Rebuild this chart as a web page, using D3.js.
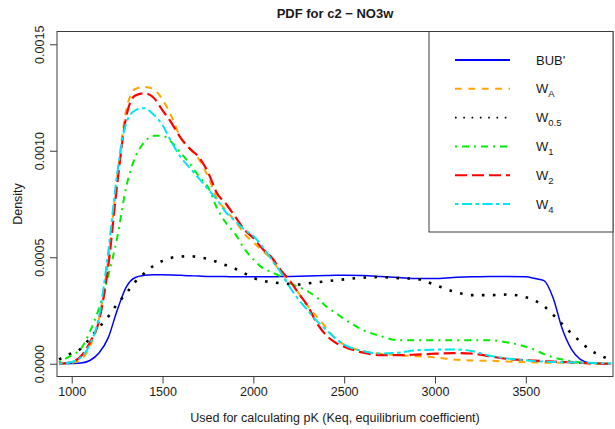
<!DOCTYPE html>
<html>
<head>
<meta charset="utf-8">
<script src="https://cdn.jsdelivr.net/npm/d3@7/dist/d3.min.js"></script>
<style>
  html, body { margin: 0; padding: 0; background: #fff; }
  svg { display: block; font-family: "Liberation Sans", Arial, Helvetica, sans-serif; }
</style>
</head>
<body>
<svg id="chart" width="615" height="429"></svg>
<script>
// Evaluation grid (pK values) shared by all density curves
const grid = [930, 1000, 1050, 1100, 1150, 1200, 1250, 1300, 1350, 1400, 1450, 1500, 1550, 1600,
  1650, 1700, 1750, 1800, 1850, 1900, 1950, 2000, 2050, 2100, 2150, 2200, 2250, 2300, 2350, 2400,
  2450, 2500, 2600, 2700, 2800, 2900, 3000, 3100, 3200, 3300, 3400, 3500, 3550, 3600, 3650, 3700,
  3750, 3800, 3850, 3900, 3970];

// Density estimates on the grid
const bub = [0, 0.000001, 0.000003, 0.000015, 0.00005, 0.00012, 0.00025, 0.00036, 0.000405, 0.000415,
  0.000418, 0.000418, 0.000417, 0.000415, 0.000413, 0.000412, 0.00041, 0.00041, 0.000409, 0.000408,
  0.000408, 0.000408, 0.000408, 0.000408, 0.000409, 0.00041, 0.000411, 0.000412, 0.000413, 0.000414,
  0.000415, 0.000415, 0.000414, 0.00041, 0.000405, 0.0004, 0.0004, 0.000405, 0.000408, 0.00041,
  0.00041, 0.000408, 0.0004, 0.00039, 0.00031, 0.000165, 0.00007, 0.00002, 0.000004, 0.000001, 0];

const wA = [0, 0.000004, 0.00002, 0.00008, 0.00021, 0.00048, 0.00087, 0.00119, 0.00129, 0.0013,
  0.00129, 0.00124, 0.00116, 0.00106, 0.00101, 0.00096, 0.00088, 0.000775, 0.00072, 0.00067,
  0.00061, 0.00057, 0.00053, 0.00049, 0.00043, 0.00039, 0.00033, 0.00027, 0.00022, 0.00017,
  0.00012, 0.00009, 0.00006, 0.000047, 0.00004, 0.000035, 0.00003, 0.00002, 0.000015, 0.000014,
  0.00001, 0.000007, 0.000006, 0.000005, 0.000005, 0.000005, 0.000004, 0.000003, 0.000002, 0.000001, 0];

const w05 = [0.00002, 0.00005, 0.00007, 0.00012, 0.00017, 0.00022, 0.00028, 0.00033, 0.000385, 0.000425,
  0.00046, 0.000483, 0.000498, 0.000503, 0.000505, 0.0005, 0.000492, 0.000478, 0.000462, 0.000446,
  0.000425, 0.000403, 0.00039, 0.000383, 0.000378, 0.000375, 0.000372, 0.000377, 0.000382, 0.000387,
  0.000392, 0.000396, 0.000404, 0.000407, 0.000402, 0.000398, 0.00037, 0.00034, 0.000322, 0.000322,
  0.000325, 0.000312, 0.000296, 0.00027, 0.00023, 0.000187, 0.000143, 0.000104, 0.000067, 0.000043, 0.000018];

const w1 = [0.000008, 0.00004, 0.00007, 0.00015, 0.00026, 0.00041, 0.00059, 0.00083, 0.00097, 0.00104,
  0.00107, 0.00107, 0.00104, 0.00099, 0.00094, 0.00088, 0.00083, 0.00073, 0.00066, 0.00061,
  0.00054, 0.00049, 0.00045, 0.00043, 0.00041, 0.00038, 0.00036, 0.00034, 0.00031, 0.00027,
  0.00024, 0.00021, 0.00016, 0.00013, 0.00011, 0.00011, 0.00011, 0.00011, 0.00011, 0.00011,
  0.0001, 0.00008, 0.000065, 0.000045, 0.00003, 0.00002, 0.000012, 0.000006, 0.000003, 0.000001, 0];

const w2 = [0, 0.000008, 0.000035, 0.0001, 0.0002, 0.00045, 0.00084, 0.00116, 0.00126, 0.00127,
  0.00125, 0.00119, 0.00113, 0.00106, 0.00101, 0.00097, 0.0009, 0.0008, 0.00075, 0.00069,
  0.00063, 0.00059, 0.00054, 0.0005, 0.00044, 0.00039, 0.00033, 0.00027, 0.00019, 0.000135,
  0.0001, 0.00008, 0.000053, 0.00004, 0.00004, 0.000043, 0.000047, 0.00005, 0.000048, 0.000035,
  0.000022, 0.000017, 0.000015, 0.000012, 0.00001, 0.000008, 0.000006, 0.000004, 0.000002, 0.000001, 0];

const w4 = [0, 0.000008, 0.00003, 0.00009, 0.00022, 0.00052, 0.00089, 0.00113, 0.00119, 0.0012,
  0.00117, 0.00112, 0.00104, 0.00097, 0.00092, 0.00087, 0.00082, 0.00077, 0.00071, 0.00067,
  0.00063, 0.0006, 0.00055, 0.00049, 0.00043, 0.00036, 0.0003, 0.00025, 0.0002, 0.00016,
  0.00012, 0.00009, 0.00006, 0.000048, 0.000052, 0.000063, 0.000066, 0.000067, 0.00006, 0.000037,
  0.000025, 0.000016, 0.000012, 0.00001, 0.000008, 0.000007, 0.000006, 0.000005, 0.000004, 0.000003, 0.000002];

const xTicks = [1000, 1500, 2000, 2500, 3000, 3500];
const yTicks = [0, 0.0005, 0.0010, 0.0015];
const yTickLabels = ["0.0000", "0.0005", "0.0010", "0.0015"];

// Series styling: colour, width, dash pattern (plot) and dash pattern (legend key)
const series = [
  { name: "BUB'", base: "BUB'", sub: "", values: bub, color: "#0000ff", width: 1.5, dash: null, keyDash: null, keyWidth: 2 },
  { name: "WA", base: "W", sub: "A", values: wA, color: "#ffa500", width: 2, dash: "7,6", keyDash: "6.7,6.7", keyWidth: 2 },
  { name: "W0.5", base: "W", sub: "0.5", values: w05, color: "#000000", width: 2.6, dash: "2.6,8.4", keyDash: "1.6,6.7", keyWidth: 1.6 },
  { name: "W1", base: "W", sub: "1", values: w1, color: "#00ee00", width: 2, dash: "2,5,7,5", keyDash: "2,5,7,5", keyWidth: 2 },
  { name: "W2", base: "W", sub: "2", values: w2, color: "#ff0000", width: 2.2, dash: "12,5", keyDash: "12,5", keyWidth: 2 },
  { name: "W4", base: "W", sub: "4", values: w4, color: "#00e5ee", width: 2, dash: "3.5,3.5,10,3.5", keyDash: "3.5,3.5,10,3.5", keyWidth: 2 }
];

const svg = d3.select("#chart");
const box = { left: 57, right: 613, top: 31.5, bottom: 376.5 };
const textColor = "#1a1a1a";
const axisColor = "#3c3c3c";

const x = d3.scaleLinear().domain([919, 3980]).range([box.left, box.right]);
const y = d3.scaleLinear().domain([-0.00006, 0.00156]).range([box.bottom, box.top]);

svg.append("defs").append("clipPath").attr("id", "plotClip")
  .append("rect")
  .attr("x", box.left).attr("y", box.top)
  .attr("width", box.right - box.left).attr("height", box.bottom - box.top);

// Density curves
const line = d3.line()
  .x((d, i) => x(grid[i]))
  .y(d => y(d))
  .curve(d3.curveMonotoneX);

const curves = svg.append("g").attr("clip-path", "url(#plotClip)");
series.forEach(s => {
  curves.append("path")
    .attr("d", line(s.values))
    .attr("fill", "none")
    .attr("stroke", s.color)
    .attr("stroke-width", s.width)
    .attr("stroke-dasharray", s.dash)
    .attr("stroke-linecap", "butt");
});

// Axes
const xAxis = svg.append("g")
  .attr("transform", `translate(0,${box.bottom})`)
  .call(d3.axisBottom(x).tickValues(xTicks).tickFormat(d3.format("d"))
    .tickSize(7).tickSizeOuter(0).tickPadding(4));
xAxis.select(".domain").remove();
xAxis.selectAll("line").attr("stroke", axisColor);
xAxis.selectAll("text").attr("font-size", 12.5).attr("fill", textColor)
  .attr("font-family", "Liberation Sans, Arial, sans-serif");

const yAxis = svg.append("g")
  .attr("transform", `translate(${box.left},0)`)
  .call(d3.axisLeft(y).tickValues(yTicks).tickSize(7).tickFormat((d, i) => yTickLabels[i]));
yAxis.select(".domain").remove();
yAxis.selectAll("line").attr("stroke", axisColor);
yAxis.selectAll("text")
  .attr("font-size", 12.5).attr("fill", textColor)
  .attr("font-family", "Liberation Sans, Arial, sans-serif")
  .attr("text-anchor", "middle")
  .attr("x", null)
  .attr("dy", "0")
  .attr("transform", "translate(-13,0) rotate(-90)");

// Plot frame
svg.append("rect")
  .attr("x", box.left).attr("y", box.top)
  .attr("width", box.right - box.left).attr("height", box.bottom - box.top)
  .attr("fill", "none").attr("stroke", axisColor).attr("stroke-width", 1);

// Title and axis labels
svg.append("text")
  .attr("x", (box.left + box.right) / 2).attr("y", 18)
  .attr("text-anchor", "middle").attr("font-size", 13).attr("font-weight", "bold").attr("fill", textColor)
  .text("PDF for c2 \u2212 NO3w");

svg.append("text")
  .attr("x", (box.left + box.right) / 2).attr("y", 422)
  .attr("text-anchor", "middle").attr("font-size", 12.5).attr("fill", textColor)
  .text("Used for calculating pK (Keq, equilibrium coefficient)");

svg.append("text")
  .attr("transform", `translate(22,${(box.top + box.bottom) / 2}) rotate(-90)`)
  .attr("text-anchor", "middle").attr("font-size", 12.5).attr("fill", textColor)
  .text("Density");

// Legend
const legend = svg.append("g");
legend.append("rect")
  .attr("x", 429).attr("y", box.top)
  .attr("width", box.right - 429).attr("height", 232 - box.top)
  .attr("fill", "#fff").attr("stroke", axisColor).attr("stroke-width", 1);

const rowY = d3.scaleLinear().domain([0, 5]).range([60, 204]);
series.forEach((s, i) => {
  const yy = rowY(i);
  legend.append("line")
    .attr("x1", 455).attr("x2", 510).attr("y1", yy).attr("y2", yy)
    .attr("stroke", s.color).attr("stroke-width", s.keyWidth)
    .attr("stroke-dasharray", s.keyDash);
  const t = legend.append("text")
    .attr("x", 536).attr("y", yy + 4.5)
    .attr("font-size", 13).attr("fill", textColor);
  t.append("tspan").text(s.base);
  if (s.sub) {
    t.append("tspan").attr("font-size", 9.5).attr("dy", 4).text(s.sub);
  }
});
</script>
</body>
</html>
